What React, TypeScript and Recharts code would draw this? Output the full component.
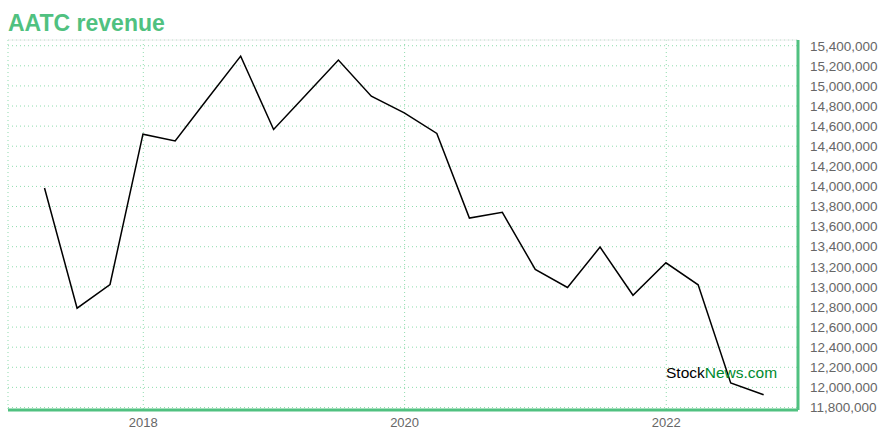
import React from "react";
import { LineChart, Line, XAxis, YAxis, CartesianGrid, ReferenceLine } from "recharts";

const quarterDates = [
  "2017-03-31", "2017-06-30", "2017-09-30", "2017-12-31",
  "2018-03-31", "2018-06-30", "2018-09-30", "2018-12-31",
  "2019-03-31", "2019-06-30", "2019-09-30", "2019-12-31",
  "2020-03-31", "2020-06-30", "2020-09-30", "2020-12-31",
  "2021-03-31", "2021-06-30", "2021-09-30", "2021-12-31",
  "2022-03-31", "2022-06-30", "2022-09-30",
];

const revenue = [
  13984000, 12788000, 13024000, 14520000,
  14453000, 14875000, 15297000, 14566000,
  14910000, 15257000, 14898000, 14732000,
  14527000, 13685000, 13742000, 13174000,
  12994000, 13396000, 12917000, 13240000,
  13021000, 12044000, 11927000,
];

const yTicks = [
  11800000, 12000000, 12200000, 12400000, 12600000, 12800000, 13000000,
  13200000, 13400000, 13600000, 13800000, 14000000, 14200000, 14400000,
  14600000, 14800000, 15000000, 15200000, 15400000,
];

const xTickDates = ["2018-01-01", "2020-01-01", "2022-01-01"];
const xDomainDates = ["2016-12-19", "2023-01-04"];
const yDomain = [11775000, 15457000];

const data = quarterDates.map((d, i) => ({ t: Date.parse(d), v: revenue[i] }));
const xTicks = xTickDates.map((d) => Date.parse(d));
const xDomain = xDomainDates.map((d) => Date.parse(d));

const GREEN = "#50c180";
const FONT = "'Liberation Sans', Arial, Helvetica, sans-serif";

export default function App() {
  return (
    <div style={{ position: "absolute", left: 0, top: 0, width: 880, height: 440, background: "#fff", fontFamily: FONT }}>
      <div
        style={{
          position: "absolute",
          left: 8,
          top: 12,
          fontSize: 23,
          lineHeight: "23px",
          fontWeight: "bold",
          color: GREEN,
          fontFamily: FONT,
          whiteSpace: "nowrap",
        }}
      >
        AATC revenue
      </div>
      <LineChart
        width={880}
        height={440}
        data={data}
        margin={{ top: 40, right: 8, bottom: 6, left: 8 }}
        style={{ position: "absolute", left: 0, top: 0 }}
      >
        <CartesianGrid stroke="#8fdcae" strokeDasharray="1 3" />
        <ReferenceLine y={yDomain[1]} stroke="#ececec" strokeWidth={1} ifOverflow="extendDomain" />
        <XAxis
          dataKey="t"
          type="number"
          scale="time"
          domain={xDomain}
          ticks={xTicks}
          allowDataOverflow
          tickFormatter={(v: number) => String(new Date(v).getUTCFullYear())}
          stroke={GREEN}
          strokeWidth={3}
          tickLine={false}
          tickSize={6}
          tickMargin={2}
          height={24}
          tick={{ fill: "#666", fontSize: 13, fontFamily: FONT }}
        />
        <YAxis
          orientation="right"
          type="number"
          domain={yDomain}
          ticks={yTicks}
          allowDataOverflow
          interval={0}
          tickFormatter={(v: number) => v.toLocaleString("en-US")}
          stroke={GREEN}
          strokeWidth={3}
          tickLine={false}
          tickSize={10}
          tickMargin={2}
          width={74}
          tick={{ fill: "#666", fontSize: 13.5, fontFamily: FONT }}
        />
        <Line
          type="linear"
          dataKey="v"
          stroke="#000"
          strokeWidth={1.5}
          dot={false}
          isAnimationActive={false}
        />
      </LineChart>
      <div
        style={{
          position: "absolute",
          left: 666,
          top: 364,
          fontSize: 15.5,
          lineHeight: "18px",
          fontFamily: FONT,
          whiteSpace: "nowrap",
        }}
      >
        <span style={{ color: "#000" }}>Stock</span>
        <span style={{ color: "#008a2e" }}>News.com</span>
      </div>
    </div>
  );
}
